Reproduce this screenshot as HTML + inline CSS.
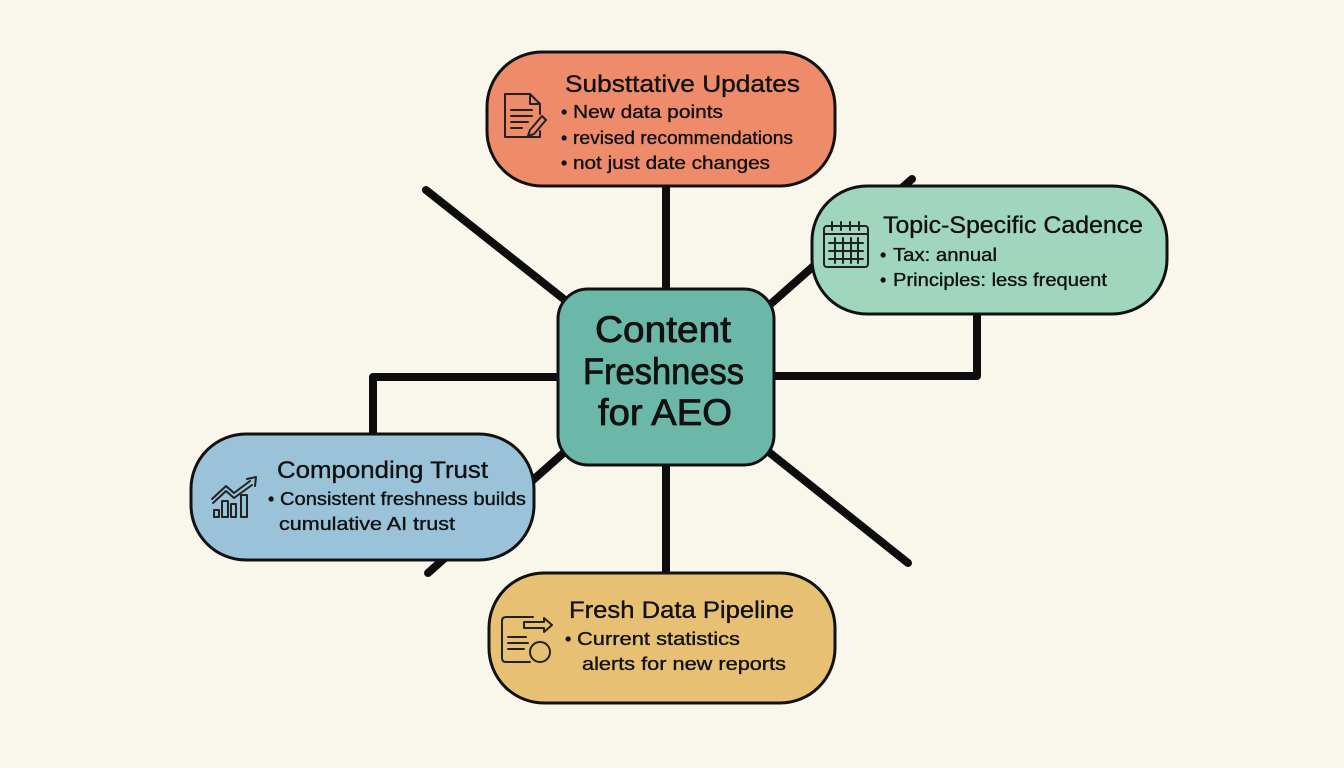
<!DOCTYPE html>
<html>
<head>
<meta charset="utf-8">
<style>
html,body{margin:0;padding:0;background:#f9f6ec;}
svg{display:block;}
text{font-family:"Liberation Sans","DejaVu Sans",sans-serif;fill:#111;stroke:#111;stroke-width:0.35px;}
.t{font-size:24px;}
.b{font-size:18px;}
.c{font-size:37px;stroke-width:0.8px;}
</style>
</head>
<body>
<svg width="1344" height="768" viewBox="0 0 1344 768" xmlns="http://www.w3.org/2000/svg">
<rect width="1344" height="768" fill="#f9f6ec"/>
<!-- connectors -->
<g stroke="#0d0d0d" stroke-width="8" stroke-linecap="round" fill="none" stroke-linejoin="round">
  <line x1="666" y1="186" x2="666" y2="292"/>
  <line x1="666" y1="462" x2="666" y2="576"/>
  <line x1="426" y1="190" x2="570" y2="304"/>
  <line x1="765" y1="309" x2="912" y2="179"/>
  <polyline points="770,376 977,376 977,312"/>
  <polyline points="562,377 373,377 373,437"/>
  <line x1="568" y1="449" x2="428" y2="573"/>
  <line x1="765" y1="449" x2="908" y2="563"/>
</g>
<!-- boxes -->
<g stroke="#111" stroke-width="3">
  <rect x="487" y="52" width="348" height="134" rx="55" fill="#ee8b6b"/>
  <rect x="812" y="186" width="355" height="128" rx="55" fill="#9fd6bd"/>
  <rect x="191" y="434" width="343" height="126" rx="55" fill="#9ac2d8"/>
  <rect x="489" y="573" width="346" height="130" rx="55" fill="#e8c073"/>
  <rect x="558" y="289" width="216" height="176" rx="30" fill="#6cb8a8"/>
</g>
<!-- center text -->
<text class="c" x="595" y="342" textLength="136" lengthAdjust="spacingAndGlyphs">Content</text>
<text class="c" x="583" y="384" textLength="161" lengthAdjust="spacingAndGlyphs">Freshness</text>
<text class="c" x="598" y="425" textLength="134" lengthAdjust="spacingAndGlyphs">for AEO</text>
<!-- top box text -->
<text class="t" x="565" y="92" textLength="235" lengthAdjust="spacingAndGlyphs">Substtative Updates</text>
<text class="b" x="561" y="118">•</text>
<text class="b" x="573" y="118" textLength="150" lengthAdjust="spacingAndGlyphs">New data points</text>
<text class="b" x="561" y="144">•</text>
<text class="b" x="573" y="144" textLength="220" lengthAdjust="spacingAndGlyphs">revised recommendations</text>
<text class="b" x="561" y="169">•</text>
<text class="b" x="573" y="169" textLength="197" lengthAdjust="spacingAndGlyphs">not just date changes</text>
<!-- right box text -->
<text class="t" x="883" y="233" textLength="260" lengthAdjust="spacingAndGlyphs">Topic-Specific Cadence</text>
<text class="b" x="880" y="261">•</text>
<text class="b" x="893" y="261" textLength="104" lengthAdjust="spacingAndGlyphs">Tax: annual</text>
<text class="b" x="880" y="286">•</text>
<text class="b" x="893" y="286" textLength="214" lengthAdjust="spacingAndGlyphs">Principles: less frequent</text>
<!-- left box text -->
<text class="t" x="277" y="478" textLength="211" lengthAdjust="spacingAndGlyphs">Componding Trust</text>
<text class="b" x="268" y="505">•</text>
<text class="b" x="280" y="505" textLength="246" lengthAdjust="spacingAndGlyphs">Consistent freshness builds</text>
<text class="b" x="279" y="530" textLength="176" lengthAdjust="spacingAndGlyphs">cumulative AI trust</text>
<!-- bottom box text -->
<text class="t" x="569" y="618" textLength="225" lengthAdjust="spacingAndGlyphs">Fresh Data Pipeline</text>
<text class="b" x="565" y="645">•</text>
<text class="b" x="577" y="645" textLength="163" lengthAdjust="spacingAndGlyphs">Current statistics</text>
<text class="b" x="582" y="670" textLength="204" lengthAdjust="spacingAndGlyphs">alerts for new reports</text>
<!-- icons -->
<g stroke="#222" stroke-width="2" fill="none" stroke-linecap="round" stroke-linejoin="round">
  <!-- doc -->
  <path d="M540,114 L540,104 L530,94 L505,94 L505,137 L540,137 L540,131"/>
  <path d="M530,94 L530,104 L540,104"/>
  <line x1="511" y1="110" x2="532" y2="110"/>
  <line x1="511" y1="116" x2="532" y2="116"/>
  <line x1="511" y1="122" x2="528" y2="122"/>
  <line x1="511" y1="128" x2="522" y2="128"/>
  <path d="M542,116 L546,120 L534,134 L528,136 L530,130 Z"/>
  <!-- calendar -->
  <rect x="824" y="226" width="44" height="41" rx="3"/>
  <line x1="824" y1="234" x2="868" y2="234"/>
  <line x1="832" y1="222" x2="832" y2="230"/>
  <line x1="841" y1="222" x2="841" y2="230"/>
  <line x1="850" y1="222" x2="850" y2="230"/>
  <line x1="859" y1="222" x2="859" y2="230"/>
  <line x1="829" y1="243" x2="863" y2="243"/>
  <line x1="829" y1="251" x2="863" y2="251"/>
  <line x1="829" y1="259" x2="863" y2="259"/>
  <line x1="835" y1="238" x2="835" y2="263"/>
  <line x1="843" y1="238" x2="843" y2="263"/>
  <line x1="851" y1="238" x2="851" y2="263"/>
  <line x1="858" y1="238" x2="858" y2="263"/>
  <!-- chart -->
  <rect x="214" y="510" width="5" height="7"/>
  <rect x="222" y="501" width="6" height="16"/>
  <rect x="231" y="504" width="5" height="13"/>
  <rect x="241" y="495" width="6" height="22"/>
  <path d="M212,499 L226,486 L234,493 L250,481"/>
  <path d="M213,503 L226,491 L234,498 L252,485"/>
  <path d="M247,479 L256,477 L255,486"/>
  <!-- pipeline -->
  <path d="M533,617 L506,617 Q502,617 502,621 L502,658 Q502,662 506,662 L530,662"/>
  <path d="M524,622 L544,622 L544,618 L552,625 L544,632 L544,628 L524,628 Z"/>
  <line x1="508" y1="637" x2="526" y2="637"/>
  <line x1="508" y1="643" x2="528" y2="643"/>
  <line x1="508" y1="649" x2="524" y2="649"/>
  <circle cx="540" cy="652" r="10"/>
</g>
</svg>
</body>
</html>
